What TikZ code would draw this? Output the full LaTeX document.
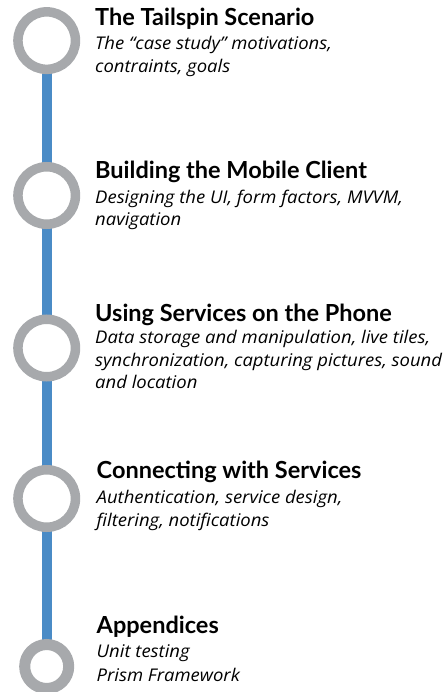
\documentclass[tikz,border=0pt]{standalone}
\usepackage{fontspec}
\setmainfont{Lato}
\newfontfamily\subfont[FakeStretch=1.056]{Open Sans}
\usetikzlibrary{backgrounds}
\definecolor{ringgray}{HTML}{A7A9AC}
\definecolor{lineblue}{HTML}{4A8BC6}
\tikzset{
  ring/.style={circle, draw=ringgray, fill=white, line width=9.5pt, minimum size=57.5pt, inner sep=0pt},
  smallring/.style={circle, draw=ringgray, fill=white, line width=11pt, minimum size=44pt, inner sep=0pt},
  title/.style={anchor=base west, inner sep=0pt, font=\fontsize{23.5}{25}\selectfont\bfseries},
  sub/.style={anchor=base west, inner sep=0pt, font=\subfont\fontsize{17.5}{22}\selectfont\itshape},
  spine/.style={draw=lineblue, line width=10pt}
}
\begin{document}
\begin{tikzpicture}[x=1pt, y=-1pt]
\useasboundingbox (0,0) rectangle (443,692);
\node[ring] (c1) at (46.7,40.6) {};
\node[ring] (c2) at (46.7,195.5) {};
\node[ring] (c3) at (46.7,348) {};
\node[ring] (c4) at (46.7,498.5) {};
\node[smallring] (c5) at (46.7,666.5) {};
\begin{scope}[on background layer]
\draw[spine] (c1.center) -- (c5.center);
\end{scope}

\node[title] (t1) at (95,25.5) {The Tailspin Scenario};
\node[sub] (s1a) at (95,50) {The “case study” motivations,};
\node[sub] (s1b) at (95,72.5) {contraints, goals};

\node[title] (t2) at (95,178.3) {Building the Mobile Client};
\node[sub] (s2a) at (95,203.3) {Designing the UI, form factors, MVVM,};
\node[sub] (s2b) at (95,226) {navigation};

\node[title] (t3) at (95,321.7) {Using Services on the Phone};
\node[sub] (s3a) at (95,343.5) {Data storage and manipulation, live tiles,};
\node[sub] (s3b) at (95,366) {synchronization, capturing pictures, sound};
\node[sub] (s3c) at (95,388.5) {and location};

\node[title] (t4) at (96.5,478.3) {Connecting with Services};
\node[sub] (s4a) at (96.5,503.3) {Authentication, service design,};
\node[sub] (s4b) at (96.5,526.7) {filtering, notifications};

\node[title] (t5) at (96.5,633.3) {Appendices};
\node[sub] (s5a) at (96.5,657) {Unit testing};
\node[sub] (s5b) at (96.5,681.5) {Prism Framework};
\end{tikzpicture}
\end{document}
